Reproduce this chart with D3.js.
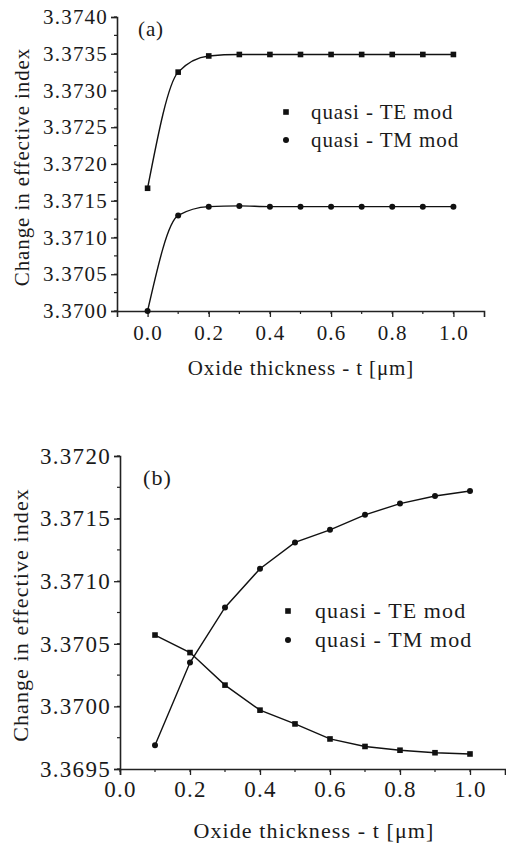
<!DOCTYPE html>
<html>
<head>
<meta charset="utf-8">
<script src="https://cdn.jsdelivr.net/npm/d3@7"></script>
<style>
  body { margin: 0; background: #fff; }
</style>
</head>
<body>
<svg id="viz" width="506" height="847"></svg>
<script>
// panel (a)
var xA = [0.0, 0.1, 0.2, 0.3, 0.4, 0.5, 0.6, 0.7, 0.8, 0.9, 1.0];
var teA = [3.37167, 3.37325, 3.37347, 3.37349, 3.37349, 3.37349, 3.37349, 3.37349, 3.37349, 3.37349, 3.37349];
var tmA = [3.37000, 3.37130, 3.37142, 3.37143, 3.37142, 3.37142, 3.37142, 3.37142, 3.37142, 3.37142, 3.37142];
var yTicksA = [3.3700, 3.3705, 3.3710, 3.3715, 3.3720, 3.3725, 3.3730, 3.3735, 3.3740];

// panel (b)
var xB = [0.1, 0.2, 0.3, 0.4, 0.5, 0.6, 0.7, 0.8, 0.9, 1.0];
var teB = [3.37057, 3.37043, 3.37017, 3.36997, 3.36986, 3.36974, 3.36968, 3.36965, 3.36963, 3.36962];
var tmB = [3.36969, 3.37035, 3.37079, 3.37110, 3.37131, 3.37141, 3.37153, 3.37162, 3.37168, 3.37172];
var yTicksB = [3.3695, 3.3700, 3.3705, 3.3710, 3.3715, 3.3720];

var xTicks = [0.0, 0.2, 0.4, 0.6, 0.8, 1.0];
var seriesNames = ["quasi - TE mod", "quasi - TM mod"];

var svg = d3.select("#viz");

function txt(sel, size, sp) {
    return sel.style("font-family", "'Liberation Serif'").style("font-size", size + "px")
        .style("letter-spacing", sp + "px").attr("fill", "#1a1a1a");
}

function panel(o) {
    var x = d3.scaleLinear().domain(o.xDomain).range([o.left, o.right]);
    var y = d3.scaleLinear().domain(o.yDomain).range([o.bottom, o.top]);
    var g = svg.append("g");

    // minor ticks
    var yMinor = d3.range(0, 2 * (o.yTicks.length - 1) + 1).map(function (i) {
        return o.yDomain[0] + i * 0.00025;
    });
    g.append("g").selectAll("line").data(yMinor).enter().append("line")
        .attr("x1", o.left).attr("x2", o.left - 3)
        .attr("y1", function (d) { return y(d); }).attr("y2", function (d) { return y(d); })
        .attr("stroke", "#222").attr("stroke-width", 1.2);
    var xMinor = d3.range(0, 11).map(function (i) { return i / 10; });
    g.append("g").selectAll("line").data(xMinor).enter().append("line")
        .attr("y1", o.bottom).attr("y2", o.bottom + 3)
        .attr("x1", function (d) { return x(d); }).attr("x2", function (d) { return x(d); })
        .attr("stroke", "#222").attr("stroke-width", 1.2);

    var yAxis = d3.axisLeft(y).tickValues(o.yTicks).tickFormat(d3.format(".4f")).tickSize(6).tickPadding(3);
    var xAxis = d3.axisBottom(x).tickValues(xTicks).tickFormat(d3.format(".1f")).tickSize(6).tickPadding(o.xPad);

    var ya = g.append("g").attr("transform", "translate(" + o.left + ",0)").call(yAxis);
    var xa = g.append("g").attr("transform", "translate(0," + o.bottom + ")").call(xAxis);
    [ya, xa].forEach(function (a) {
        a.attr("font-family", "Liberation Serif").attr("font-size", o.tickFont);
        a.select(".domain").attr("stroke", "#222").attr("stroke-width", 1.6);
        a.selectAll(".tick line").attr("stroke", "#222").attr("stroke-width", 1.3);
        txt(a.selectAll("text"), o.tickFont, o.tickSpace);
    });

    var line = d3.line()
        .x(function (d) { return x(d[0]); })
        .y(function (d) { return y(d[1]); })
        .curve(o.curve);

    [o.te, o.tm].forEach(function (vals, k) {
        var pts = o.xs.map(function (d, i) { return [d, vals[i]]; });
        g.append("path").datum(pts).attr("d", line)
            .attr("fill", "none").attr("stroke", "#111").attr("stroke-width", 1.4);
        if (k === 0) {
            g.append("g").selectAll("rect").data(pts).enter().append("rect")
                .attr("x", function (d) { return x(d[0]) - 2.8; })
                .attr("y", function (d) { return y(d[1]) - 2.8; })
                .attr("width", 5.6).attr("height", 5.6).attr("fill", "#111");
        } else {
            g.append("g").selectAll("circle").data(pts).enter().append("circle")
                .attr("cx", function (d) { return x(d[0]); })
                .attr("cy", function (d) { return y(d[1]); })
                .attr("r", 3).attr("fill", "#111");
        }
    });

    // legend
    g.append("rect").attr("x", o.legX - 2.8).attr("y", o.legY - 2.8)
        .attr("width", 5.6).attr("height", 5.6).attr("fill", "#111");
    g.append("circle").attr("cx", o.legX).attr("cy", o.legY + o.legGap).attr("r", 3).attr("fill", "#111");
    seriesNames.forEach(function (s, i) {
        txt(g.append("text"), o.labFont, o.labSpace).attr("x", o.legX + o.legText)
            .attr("y", o.legY + i * o.legGap + 7).text(s);
    });

    txt(g.append("text"), o.labFont, o.labSpace).attr("x", o.tagX).attr("y", o.tagY).text(o.tag);

    txt(g.append("text"), o.labFont, o.labSpace).attr("x", o.xLabX).attr("y", o.xLabY).attr("text-anchor", "middle")
        .text("Oxide thickness - t [\u03bcm]");
    txt(g.append("text"), o.labFont, o.labSpace).attr("transform", "translate(" + o.yLabX + "," + o.yLabY + ") rotate(-90)")
        .attr("text-anchor", "middle").text("Change in effective index");
}

panel({
    xDomain: [-0.1, 1.1], yDomain: [3.3700, 3.3740], left: 117, right: 484, top: 17, bottom: 311,
    yTicks: yTicksA, xs: xA, te: teA, tm: tmA, curve: d3.curveMonotoneX,
    tickFont: 21, tickSpace: 1.2, labFont: 21, labSpace: 0.9, xPad: 8,
    legX: 286, legY: 112, legGap: 28, legText: 25,
    tag: "(a)", tagX: 138, tagY: 36,
    xLabX: 301, xLabY: 375, yLabX: 29, yLabY: 167
});

panel({
    xDomain: [0.0, 1.1], yDomain: [3.3695, 3.3720], left: 120, right: 505, top: 456, bottom: 769,
    yTicks: yTicksB, xs: xB, te: teB, tm: tmB, curve: d3.curveLinear,
    tickFont: 23, tickSpace: 1.3, labFont: 22, labSpace: 1.1, xPad: 6,
    legX: 288, legY: 611, legGap: 29, legText: 27,
    tag: "(b)", tagX: 143, tagY: 485,
    xLabX: 314, xLabY: 838, yLabX: 28, yLabY: 615
});
</script>
</body>
</html>
